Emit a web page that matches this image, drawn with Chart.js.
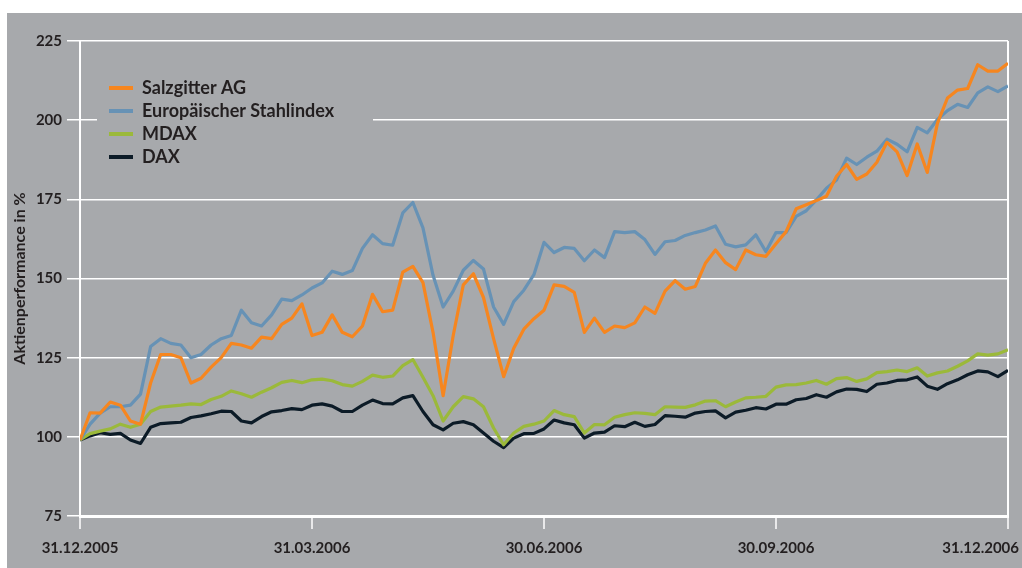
<!DOCTYPE html>
<html lang="de">
<head>
    <meta charset="UTF-8">
    <title>Aktienperformance</title>
    <script src="https://cdn.jsdelivr.net/npm/chart.js"></script>
    <style>
        html, body {
            margin: 0;
            padding: 0;
            background: #ffffff;
            width: 1022px;
            height: 568px;
            overflow: hidden;
        }
        #panel {
            position: absolute;
            left: 7px;
            top: 13px;
            width: 1015px;
            height: 555px;
            background: #a7a9ac;
        }
    </style>
</head>
<body>
<div id="panel">
    <canvas id="perfChart" width="1015" height="555"></canvas>
</div>

<script>
    // sampling steps along the year (0 = 31.12.2005, 92 = 31.12.2006)
    const steps = Array.from({ length: 93 }, (_, i) => i);
    const dateLabels = ['31.12.2005', '31.03.2006', '30.06.2006', '30.09.2006', '31.12.2006'];
    const yTicks = [75, 100, 125, 150, 175, 200, 225];

    const salzgitter = [
        99, 107.6, 107.5, 111, 110, 105, 104, 117, 126, 126,
        125, 117, 118.5, 122, 125, 129.5, 129, 128, 131.5, 131,
        135.5, 137.5, 142, 132, 133, 138.5, 133, 131.6, 135, 145,
        139.5, 140, 152, 153.8, 148.7, 133, 113, 132, 148, 151.5,
        144, 131, 119, 128, 134, 137.3, 140, 148, 147.5, 145.6,
        133, 137.5, 133, 135, 134.5, 136, 141, 139, 146, 149.3,
        146.6, 147.5, 154.8, 159, 155, 152.8, 159, 157.5, 157, 161,
        164.8, 172, 173.3, 174.6, 176, 182.3, 186, 181.3, 183, 186.7,
        193, 190, 182.5, 192.5, 183.5, 199, 207, 209.5, 210, 217.5,
        215.5, 215.5, 218
    ];
    const stahlindex = [
        99, 104, 107.5, 109.5, 109.5, 110, 113.5, 128.5, 131, 129.5,
        129, 125, 126, 129, 131, 132, 140, 136, 135, 138.5,
        143.5, 143, 144.8, 147, 148.6, 152.3, 151.3, 152.5, 159.5, 163.8,
        161, 160.5, 170.7, 174, 166, 151, 141, 146, 152.6, 155.7,
        153, 141, 135.5, 142.7, 146.3, 151.2, 161.4, 158.2, 159.8, 159.5,
        155.6, 159, 156.6, 164.8, 164.5, 164.8, 162.3, 157.6, 161.6, 162,
        163.6, 164.5, 165.3, 166.6, 160.8, 160, 160.6, 163.8, 158.5, 164.5,
        164.5, 169.6, 171.4, 174.8, 178.5, 181.1, 188, 186, 188.3, 190.2,
        194, 192.4, 190, 197.7, 196, 200.2, 203, 205, 204, 208.6,
        210.5, 209, 210.8
    ];
    const mdax = [
        99, 101, 101.8, 102.5, 104, 103, 104, 108, 109.4, 109.7,
        110, 110.4, 110.2, 111.8, 112.8, 114.5, 113.6, 112.5, 114.1, 115.5,
        117.2, 117.8, 117.1, 118, 118.2, 117.7, 116.5, 116, 117.5, 119.5,
        118.8, 119.2, 122.5, 124.4, 118.8, 113, 105, 109.5, 112.7, 112,
        109.5, 102.8, 97.5, 101.2, 103.3, 104, 105, 108.3, 107, 106.4,
        101.2, 103.9, 103.8, 106.2, 107, 107.6, 107.4, 107, 109.5, 109.4,
        109.3, 110.1, 111.3, 111.4, 109.5, 111, 112.3, 112.5, 112.8, 115.7,
        116.4, 116.5, 117, 117.8, 116.6, 118.4, 118.7, 117.5, 118.3, 120.3,
        120.6, 121.1, 120.6, 121.8, 119.2, 120.2, 120.8, 122.3, 124, 126.2,
        125.8, 126.2, 127.5
    ];
    const dax = [
        99, 100.3, 101.3, 100.8, 101.1, 99, 97.9, 103, 104.2, 104.4,
        104.6, 106.1, 106.6, 107.3, 108.1, 108, 105, 104.4, 106.4, 107.9,
        108.3, 108.9, 108.6, 110, 110.4, 109.7, 108, 108, 110, 111.6,
        110.5, 110.4, 112.3, 113, 108, 103.8, 102.2, 104.3, 104.8, 103.8,
        101.2, 98.6, 96.6, 99.6, 101, 101.1, 102.5, 105.3, 104.4, 103.8,
        99.6, 101.2, 101.5, 103.5, 103.2, 104.6, 103.3, 103.9, 106.7, 106.5,
        106.2, 107.5, 108, 108.2, 106, 107.8, 108.4, 109.2, 108.8, 110.3,
        110.3, 111.7, 112.1, 113.3, 112.5, 114.2, 115.1, 115, 114.3, 116.6,
        117, 117.8, 118, 118.9, 116, 115, 116.8, 118, 119.6, 120.8,
        120.5, 119, 121
    ];

    const textColor = '#231f20';
    const lastStep = steps[steps.length - 1];
    const quarterStep = lastStep / (dateLabels.length - 1);

    function series(label, values, color) {
        return {
            label: label,
            data: values,
            borderColor: color,
            backgroundColor: color,
            borderWidth: 3.2,
            borderJoinStyle: 'round',
            pointRadius: 0,
            tension: 0,
            fill: false
        };
    }

    // legend sits inside the plot on a patch of background
    const legendPatch = {
        id: 'legendPatch',
        afterLayout(chart) {
            chart.legend.left += 24;
            chart.legend.top += 61;
        },
        beforeDatasetsDraw(chart) {
            const area = chart.chartArea;
            const ctx = chart.ctx;
            ctx.save();
            ctx.fillStyle = '#a7a9ac';
            ctx.fillRect(area.left + 17, area.top + 22, 276, 112);
            ctx.restore();
            chart.legend.draw();
        },
        beforeDraw(chart) {
            // last date label ends near the right edge instead of being centred
            const items = chart.scales.x.getLabelItems(chart.chartArea);
            const last = items[items.length - 1];
            if (last) {
                last.options.textAlign = 'right';
                last.options.translation[0] += 11;
            }
        }
    };

    new Chart(document.getElementById('perfChart'), {
        type: 'line',
        data: {
            labels: steps,
            datasets: [
                series('Salzgitter AG', salzgitter, '#f6861f'),
                series('Europäischer Stahlindex', stahlindex, '#6792b5'),
                series('MDAX', mdax, '#9bb93a'),
                series('DAX', dax, '#0c1b27')
            ]
        },
        options: {
            responsive: false,
            animation: false,
            layout: {
                padding: { top: 28, right: 14, bottom: 0, left: 0 }
            },
            plugins: {
                tooltip: { enabled: false },
                legend: {
                    position: 'chartArea',
                    align: 'start',
                    labels: {
                        color: textColor,
                        font: { family: 'Lato', size: 18, weight: 'bold' },
                        boxWidth: 24,
                        boxHeight: 4,
                        padding: 5,
                        generateLabels(chart) {
                            return Chart.defaults.plugins.legend.labels.generateLabels(chart)
                                .map(item => Object.assign(item, { lineWidth: 0 }));
                        }
                    }
                }
            },
            scales: {
                x: {
                    type: 'linear',
                    min: 0,
                    max: lastStep,
                    afterFit(scale) {
                        scale.height = 52;
                        scale.paddingLeft = 0;
                        scale.paddingRight = 0;
                    },
                    ticks: {
                        stepSize: quarterStep,
                        autoSkip: false,
                        maxRotation: 0,
                        padding: 10,
                        color: textColor,
                        font: { family: 'Lato', size: 15, weight: 'bold' },
                        callback: value => dateLabels[Math.round(value / quarterStep)]
                    },
                    grid: {
                        color: ctx => (ctx.tick && (ctx.tick.value === 0 || ctx.tick.value === lastStep)) ? '#ffffff' : 'rgba(0,0,0,0)',
                        lineWidth: 2,
                        tickColor: '#ffffff',
                        tickWidth: 1.5,
                        tickLength: 13
                    },
                    border: { color: '#ffffff', width: 3 }
                },
                y: {
                    min: 75,
                    max: 225,
                    afterFit(scale) {
                        scale.width = 73;
                        scale.paddingTop = 0;
                        scale.paddingBottom = 0;
                    },
                    afterBuildTicks(scale) {
                        scale.ticks = yTicks.map(v => ({ value: v }));
                    },
                    ticks: {
                        padding: 5,
                        color: textColor,
                        font: { family: 'Lato', size: 15, weight: 'bold' }
                    },
                    grid: {
                        color: '#ffffff',
                        lineWidth: 1.5,
                        tickLength: 13
                    },
                    border: { color: '#ffffff', width: 2 },
                    title: {
                        display: true,
                        text: 'Aktienperformance in %',
                        color: textColor,
                        font: { family: 'Lato', size: 16, weight: 'bold' },
                        padding: { top: 3, bottom: 0 }
                    }
                }
            }
        },
        plugins: [legendPatch]
    });
</script>

</body>
</html>
